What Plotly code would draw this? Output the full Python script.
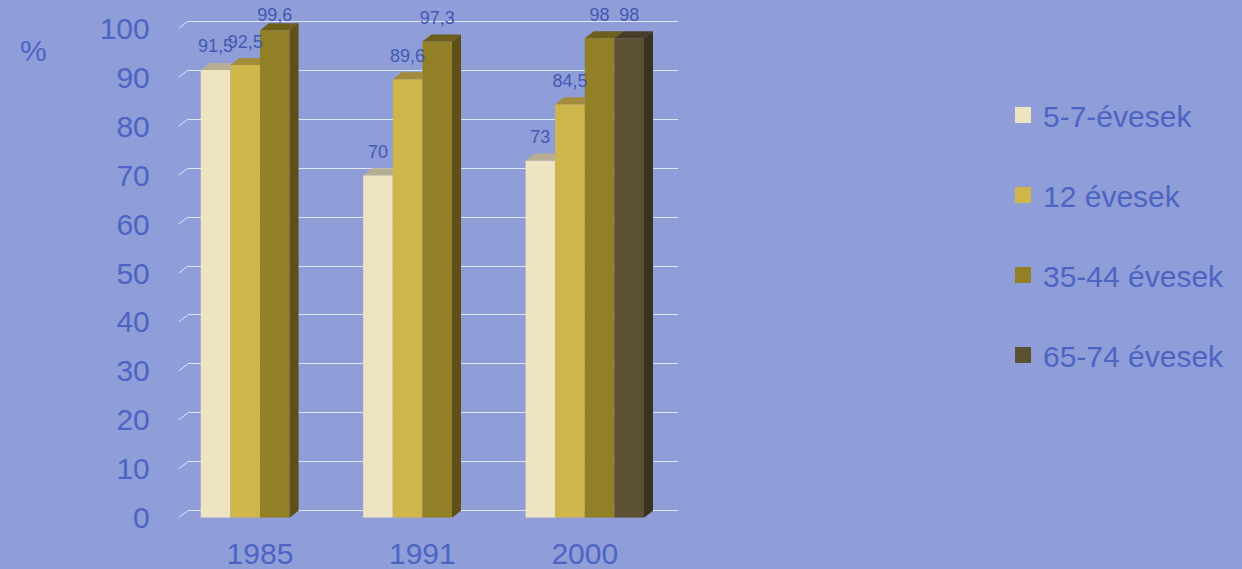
import plotly.graph_objects as go

# ---- data ----
years = ["1985", "1991", "2000"]
series_names = ["5-7-évesek", "12 évesek", "35-44 évesek", "65-74 évesek"]
v_5_7 = [91.5, 70, 73]
v_12 = [92.5, 89.6, 84.5]
v_35_44 = [99.6, 97.3, 98]
v_65_74 = [None, None, 98]
y_ticks = [0, 10, 20, 30, 40, 50, 60, 70, 80, 90, 100]

series_values = [v_5_7, v_12, v_35_44, v_65_74]
front_colors = ["#efe4c1", "#cfb64b", "#928027", "#5d5134"]
top_colors = ["#b6ad93", "#a38c3b", "#6f5f1d", "#473d29"]
side_colors = ["#a89f82", "#8c7a33", "#5f4f19", "#3b3121"]

W, H = 1242, 569
BG = "#8f9ed8"
TXT = "#4d64c4"
LBL = "#4458b2"
GRID = "rgba(240,244,255,0.85)"

# geometry (pixels -> paper)
x_left_px, x_right_px = 178.75, 666.0
y_zero_px, y_top_px = 517.7, 8.8
y_max = 104.0
depth_x_px, depth_y_px = 9.0, 7.0
cat_px = (x_right_px - x_left_px) / 3.0
unit_px = (y_zero_px - y_top_px) / y_max
dxu = depth_x_px / cat_px
dyu = depth_y_px / unit_px
label_gap = 22.0 / unit_px       # label centre above bar front top
label_cap = 102.5                # labels cannot rise above the chart top

bargap = 0.271
n_series = len(series_values)
bar_w = (1 - bargap) / n_series
xs = list(range(len(years)))


def fmt(v):
    if v is None:
        return ""
    return ("%g" % v).replace(".", ",")


fig = go.Figure()

# bars (front faces)
for k, (name, vals) in enumerate(zip(series_names, series_values)):
    fig.add_trace(go.Bar(
        x=xs, y=vals, name=name, width=bar_w,
        marker=dict(color=front_colors[k], line=dict(width=0)),
        showlegend=False, xaxis="x2", yaxis="y2", hoverinfo="skip",
    ))

# top and side faces (pseudo 3D)
for k, vals in enumerate(series_values):
    tx, ty, sx, sy = [], [], [], []
    for i, v in enumerate(vals):
        if v is None:
            continue
        x0 = xs[i] - (1 - bargap) / 2 + k * bar_w
        x1 = x0 + bar_w
        nxt = series_values[k + 1][i] if k + 1 < n_series else None
        if nxt is not None and nxt > v:
            tx += [x0, x0 + dxu, x1, x1, x0, None]
            ty += [v, v + dyu, v + dyu, v, v, None]
        else:
            tx += [x0, x0 + dxu, x1 + dxu, x1, x0, None]
            ty += [v, v + dyu, v + dyu, v, v, None]
        if nxt is None or nxt < v:
            lo = 0 if nxt is None else nxt
            sx += [x1, x1 + dxu, x1 + dxu, x1, x1, None]
            sy += [lo, lo + dyu, v + dyu, v, lo, None]
    fig.add_trace(go.Scatter(x=tx, y=ty, mode="lines", fill="toself",
                             fillcolor=top_colors[k], line=dict(width=0),
                             showlegend=False, xaxis="x2", yaxis="y2", hoverinfo="skip"))
    if sx:
        fig.add_trace(go.Scatter(x=sx, y=sy, mode="lines", fill="toself",
                                 fillcolor=side_colors[k], line=dict(width=0),
                                 showlegend=False, xaxis="x2", yaxis="y2", hoverinfo="skip"))

# value labels
for k, vals in enumerate(series_values):
    lx, ly, lt = [], [], []
    for i, v in enumerate(vals):
        if v is None:
            continue
        lx.append(xs[i] - (1 - bargap) / 2 + (k + 0.5) * bar_w)
        ly.append(min(v + label_gap, label_cap))
        lt.append(fmt(v))
    fig.add_trace(go.Scatter(x=lx, y=ly, text=lt, mode="text", textposition="middle center",
                             textfont=dict(size=18, color=LBL, family="Liberation Sans, Arial"),
                             cliponaxis=False, showlegend=False, xaxis="x2", yaxis="y2",
                             hoverinfo="skip"))

# left diagonal connectors of the back-wall gridlines
cx, cy = [], []
for t in y_ticks:
    cx += [-0.5, -0.5 + dxu, None]
    cy += [t, t + dyu, None]
fig.add_trace(go.Scatter(x=cx, y=cy, mode="lines", line=dict(color=GRID, width=1),
                         showlegend=False, xaxis="x2", yaxis="y2", hoverinfo="skip"))

# legend entries
for k, name in enumerate(series_names):
    fig.add_trace(go.Scatter(x=[None], y=[None], mode="markers", name=name,
                             marker=dict(symbol="square", size=16, color=front_colors[k]),
                             legendgroup="g%d" % k, xaxis="x2", yaxis="y2"))

# invisible trace for the back-wall grid subplot
fig.add_trace(go.Scatter(x=[0], y=[0], mode="markers", marker=dict(opacity=0),
                         showlegend=False, xaxis="x", yaxis="y", hoverinfo="skip"))

ydom = [1 - y_zero_px / H, 1 - y_top_px / H]

fig.update_layout(
    width=W, height=H,
    paper_bgcolor=BG, plot_bgcolor="rgba(0,0,0,0)",
    margin=dict(l=0, r=0, t=0, b=0),
    font=dict(family="Liberation Sans, Arial", color=TXT),
    barmode="group", bargap=bargap, bargroupgap=0,
    xaxis=dict(domain=[(x_left_px + depth_x_px) / W, 678 / W], range=[0, 1],
               showgrid=False, zeroline=False, showticklabels=False, showline=False,
               fixedrange=True),
    yaxis=dict(domain=ydom, range=[-dyu, y_max - dyu], tickvals=y_ticks,
               showgrid=True, gridcolor=GRID, gridwidth=1, zeroline=False,
               showticklabels=False, showline=False, anchor="x"),
    xaxis2=dict(domain=[x_left_px / W, x_right_px / W], range=[-0.5, 2.5],
                tickvals=xs, ticktext=years, showgrid=False, zeroline=False,
                showline=False, ticks="outside", ticklen=9, tickcolor="rgba(0,0,0,0)",
                tickfont=dict(size=30, color=TXT), anchor="y2", automargin=False),
    yaxis2=dict(domain=ydom, range=[0, y_max], tickvals=y_ticks,
                ticktext=[str(t) for t in y_ticks], showgrid=False, zeroline=False,
                showline=False, ticks="outside", ticklen=22, tickcolor="rgba(0,0,0,0)",
                tickfont=dict(size=30, color=TXT), anchor="x2", automargin=False),
    legend=dict(x=1003 / W, y=1 - 89 / H, xanchor="left", yanchor="top",
                font=dict(size=30, color=TXT), tracegroupgap=38,
                bgcolor="rgba(0,0,0,0)", itemclick=False),
    annotations=[dict(text="%", x=33 / W, y=1 - 50 / H, xref="paper", yref="paper",
                      xanchor="center", yanchor="middle",
                      showarrow=False, font=dict(size=30, color=TXT))],
)

fig.write_html("out.html", config={"displayModeBar": False},
               post_script="document.body.style.margin='0';document.body.style.overflow='hidden';")
